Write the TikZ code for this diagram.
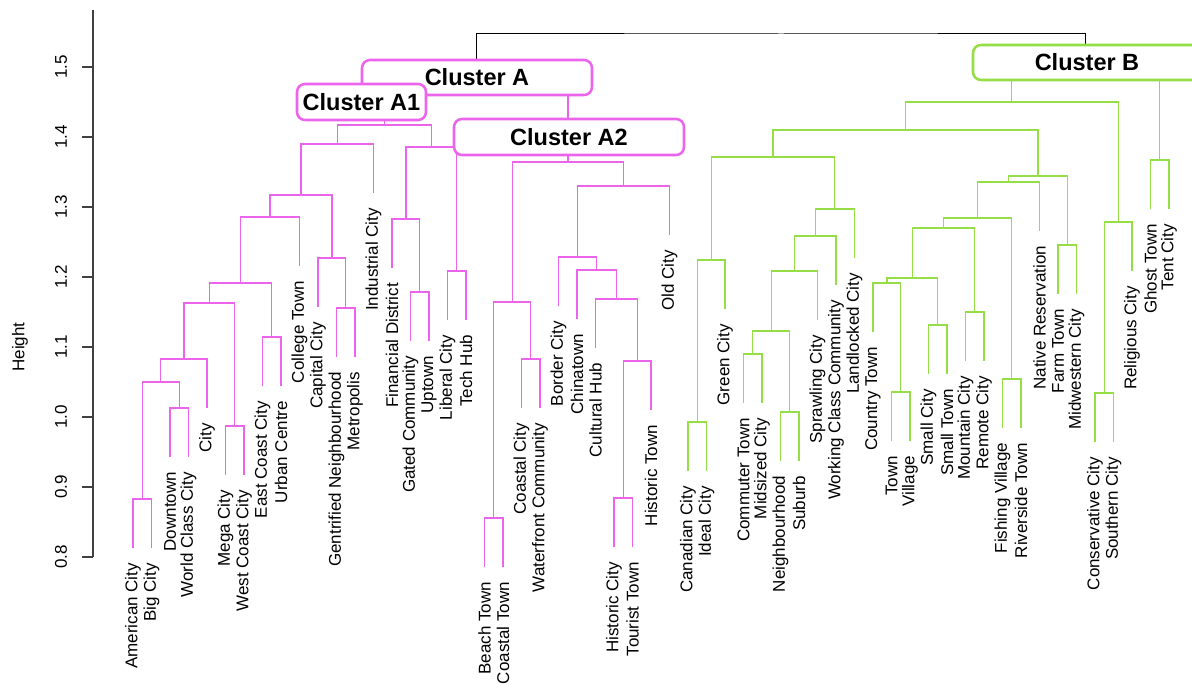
\documentclass[tikz,border=0pt]{standalone}
\usepackage{fontspec}
\setmainfont{Liberation Sans}
\definecolor{clusA}{RGB}{235,100,235}
\definecolor{clusB}{RGB}{150,222,70}
\begin{document}
\begin{tikzpicture}[x=1pt,y=-1pt,scale=0.75,every node/.style={scale=0.75}]
\tikzstyle{leaf} = [rotate=90,anchor=east,inner xsep=15pt,inner ysep=0pt,outer sep=0pt,font=\fontsize{17}{20}\selectfont]
\tikzstyle{linkA} = [clusA,line width=0.9pt]
\tikzstyle{linkB} = [clusB,line width=0.9pt]
\tikzstyle{linkroot} = [black,line width=0.75pt]
\tikzstyle{cbox} = [draw,fill=white,rounded corners=6pt,line width=1.9pt,inner sep=2pt,minimum height=35pt,font=\fontsize{23.5}{28}\selectfont\bfseries]
\tikzstyle{axlab} = [rotate=90,font=\fontsize{17}{20}\selectfont]

\useasboundingbox (0,0) rectangle (1192,684);

\draw[line width=0.9pt,black!75] (93,10) -- (93,557);
\foreach \v [count=\i from 0] in {0.8,0.9,1.0,1.1,1.2,1.3,1.4,1.5} {
  \draw[line width=0.9pt,black!75] (93,557-70*\i) -- (82,557-70*\i);
  \node[axlab] (t\i) at (61,557-70*\i) {\v};
}
\node[axlab] (ylab) at (20,347) {Height};

\node[leaf] (l1) at (133,548) {American City};
\node[leaf] (l2) at (151.5,548) {Big City};
\node[leaf] (l3) at (170,457) {Downtown};
\node[leaf] (l4) at (188.5,457) {World Class City};
\node[leaf] (l5) at (207,408) {City};
\node[leaf] (l6) at (225.5,475) {Mega City};
\node[leaf] (l7) at (244,475) {West Coast City};
\node[leaf] (l8) at (262.5,386) {East Coast City};
\node[leaf] (l9) at (281,386) {Urban Centre};
\node[leaf] (l10) at (299.5,266) {College Town};
\node[leaf] (l11) at (318,307) {Capital City};
\node[leaf] (l12) at (336.5,357) {Gentrified Neighbourhood};
\node[leaf] (l13) at (355,357) {Metropolis};
\node[leaf] (l14) at (373.5,193) {Industrial City};
\node[leaf] (l15) at (392,268) {Financial District};
\node[leaf] (l16) at (410.5,341) {Gated Community};
\node[leaf] (l17) at (429,341) {Uptown};
\node[leaf] (l18) at (447.5,320) {Liberal City};
\node[leaf] (l19) at (466,320) {Tech Hub};
\node[leaf] (l20) at (484.5,567) {Beach Town};
\node[leaf] (l21) at (503,567) {Coastal Town};
\node[leaf] (l22) at (521.5,408) {Coastal City};
\node[leaf] (l23) at (540,408) {Waterfront Community};
\node[leaf] (l24) at (558.5,306) {Border City};
\node[leaf] (l25) at (577,319) {Chinatown};
\node[leaf] (l26) at (595.5,348) {Cultural Hub};
\node[leaf] (l27) at (614,547) {Historic City};
\node[leaf] (l28) at (632.5,547) {Tourist Town};
\node[leaf] (l29) at (651,410) {Historic Town};
\node[leaf] (l30) at (669.5,235) {Old City};
\node[leaf] (l31) at (688,471) {Canadian City};
\node[leaf] (l32) at (706.5,471) {Ideal City};
\node[leaf] (l33) at (725,309) {Green City};
\node[leaf] (l34) at (743.5,403) {Commuter Town};
\node[leaf] (l35) at (762,403) {Midsized City};
\node[leaf] (l36) at (780.5,461) {Neighbourhood};
\node[leaf] (l37) at (799,461) {Suburb};
\node[leaf] (l38) at (817.5,320) {Sprawling City};
\node[leaf] (l39) at (836,285) {Working Class Community};
\node[leaf] (l40) at (854.5,258) {Landlocked City};
\node[leaf] (l41) at (873,332) {Country Town};
\node[leaf] (l42) at (891.5,441) {Town};
\node[leaf] (l43) at (910,441) {Village};
\node[leaf] (l44) at (928.5,374) {Small City};
\node[leaf] (l45) at (947,374) {Small Town};
\node[leaf] (l46) at (965.5,361) {Mountain City};
\node[leaf] (l47) at (984,361) {Remote City};
\node[leaf] (l48) at (1002.5,428) {Fishing Village};
\node[leaf] (l49) at (1021,428) {Riverside Town};
\node[leaf] (l50) at (1039.5,231) {Native Reservation};
\node[leaf] (l51) at (1058,294) {Farm Town};
\node[leaf] (l52) at (1076.5,294) {Midwestern City};
\node[leaf] (l53) at (1095,442) {Conservative City};
\node[leaf] (l54) at (1113.5,442) {Southern City};
\node[leaf] (l55) at (1132,271) {Religious City};
\node[leaf] (l56) at (1150.5,209) {Ghost Town};
\node[leaf] (l57) at (1169,209) {Tent City};

\coordinate (a1) at (142.25,499);
\coordinate (a2) at (179.25,408);
\coordinate (a3) at (160.75,382);
\coordinate (a4) at (183.9,359);
\coordinate (a5) at (234.75,426);
\coordinate (a6) at (209.3,303);
\coordinate (a7) at (271.75,337);
\coordinate (a8) at (240.5,283);
\coordinate (a9) at (270,217);
\coordinate (a10) at (345.75,308);
\coordinate (a11) at (331.9,258);
\coordinate (a12) at (300.9,195);
\coordinate (a13) at (337.2,144);
\coordinate (a14) at (419.75,292);
\coordinate (a15) at (405.9,219);
\coordinate (a16) at (456.75,271);
\coordinate (a17) at (431.3,147);
\coordinate (a18) at (384.3,125);
\coordinate (a19) at (493.75,518);
\coordinate (a20) at (530.75,359);
\coordinate (a21) at (512.25,302);
\coordinate (a22) at (623.25,498);
\coordinate (a23) at (637.1,361);
\coordinate (a24) at (616.3,299);
\coordinate (a25) at (596.7,270);
\coordinate (a26) at (577.6,257);
\coordinate (a27) at (623.5,186);
\coordinate (a28) at (567.9,162);
\coordinate (a29) at (476.1,78);

\coordinate (b1) at (697.25,422);
\coordinate (b2) at (711.1,260);
\coordinate (b3) at (752.75,354);
\coordinate (b4) at (789.75,412);
\coordinate (b5) at (771.25,331);
\coordinate (b6) at (794.4,271);
\coordinate (b7) at (815.2,236);
\coordinate (b8) at (834.8,209);
\coordinate (b9) at (773,157);
\coordinate (b10) at (900.75,392);
\coordinate (b11) at (886.9,283);
\coordinate (b12) at (937.75,325);
\coordinate (b13) at (912.3,278);
\coordinate (b14) at (974.75,312);
\coordinate (b15) at (943.5,228);
\coordinate (b16) at (1011.75,379);
\coordinate (b17) at (977.6,218);
\coordinate (b18) at (1008.6,182);
\coordinate (b19) at (1067.25,245);
\coordinate (b20) at (1037.9,176);
\coordinate (b21) at (905.5,130);
\coordinate (b22) at (1104.25,393);
\coordinate (b23) at (1118.1,222);
\coordinate (b24) at (1011.8,102);
\coordinate (b25) at (1159.75,160);
\coordinate (b26) at (1085.8,63);
\coordinate (top) at (781,34);

\draw[linkA] (l1.east) |- (a1) -| (l2.east);
\draw[linkA] (l3.east) |- (a2) -| (l4.east);
\draw[linkA] (a1) |- (a3) -| (a2);
\draw[linkA] (a3) |- (a4) -| (l5.east);
\draw[linkA] (l6.east) |- (a5) -| (l7.east);
\draw[linkA] (a4) |- (a6) -| (a5);
\draw[linkA] (l8.east) |- (a7) -| (l9.east);
\draw[linkA] (a6) |- (a8) -| (a7);
\draw[linkA] (a8) |- (a9) -| (l10.east);
\draw[linkA] (l12.east) |- (a10) -| (l13.east);
\draw[linkA] (l11.east) |- (a11) -| (a10);
\draw[linkA] (a9) |- (a12) -| (a11);
\draw[linkA] (a12) |- (a13) -| (l14.east);
\draw[linkA] (l16.east) |- (a14) -| (l17.east);
\draw[linkA] (l15.east) |- (a15) -| (a14);
\draw[linkA] (l18.east) |- (a16) -| (l19.east);
\draw[linkA] (a15) |- (a17) -| (a16);
\draw[linkA] (a13) |- (a18) -| (a17);
\draw[linkA] (l20.east) |- (a19) -| (l21.east);
\draw[linkA] (l22.east) |- (a20) -| (l23.east);
\draw[linkA] (a19) |- (a21) -| (a20);
\draw[linkA] (l27.east) |- (a22) -| (l28.east);
\draw[linkA] (a22) |- (a23) -| (l29.east);
\draw[linkA] (l26.east) |- (a24) -| (a23);
\draw[linkA] (l25.east) |- (a25) -| (a24);
\draw[linkA] (l24.east) |- (a26) -| (a25);
\draw[linkA] (a26) |- (a27) -| (l30.east);
\draw[linkA] (a21) |- (a28) -| (a27);
\draw[linkA] (a18) |- (a29) -| (a28);

\draw[linkB] (l31.east) |- (b1) -| (l32.east);
\draw[linkB] (b1) |- (b2) -| (l33.east);
\draw[linkB] (l34.east) |- (b3) -| (l35.east);
\draw[linkB] (l36.east) |- (b4) -| (l37.east);
\draw[linkB] (b3) |- (b5) -| (b4);
\draw[linkB] (b5) |- (b6) -| (l38.east);
\draw[linkB] (b6) |- (b7) -| (l39.east);
\draw[linkB] (b7) |- (b8) -| (l40.east);
\draw[linkB] (b2) |- (b9) -| (b8);
\draw[linkB] (l42.east) |- (b10) -| (l43.east);
\draw[linkB] (l41.east) |- (b11) -| (b10);
\draw[linkB] (l44.east) |- (b12) -| (l45.east);
\draw[linkB] (b11) |- (b13) -| (b12);
\draw[linkB] (l46.east) |- (b14) -| (l47.east);
\draw[linkB] (b13) |- (b15) -| (b14);
\draw[linkB] (l48.east) |- (b16) -| (l49.east);
\draw[linkB] (b15) |- (b17) -| (b16);
\draw[linkB] (b17) |- (b18) -| (l50.east);
\draw[linkB] (l51.east) |- (b19) -| (l52.east);
\draw[linkB] (b18) |- (b20) -| (b19);
\draw[linkB] (b9) |- (b21) -| (b20);
\draw[linkB] (l53.east) |- (b22) -| (l54.east);
\draw[linkB] (b22) |- (b23) -| (l55.east);
\draw[linkB] (b21) |- (b24) -| (b23);
\draw[linkB] (l56.east) |- (b25) -| (l57.east);
\draw[linkB] (b24) |- (b26) -| (b25);

\draw[linkroot] (a29) |- (top) -| (b26);

\node[cbox,draw=clusA,minimum width=230pt] (boxA) at (477,77.5) {Cluster A};
\node[cbox,draw=clusA,minimum width=129pt,minimum height=36pt] (boxA1) at (361.5,102) {Cluster A1};
\node[cbox,draw=clusA,minimum width=230pt,minimum height=36pt] (boxA2) at (569,137) {Cluster A2};
\node[cbox,draw=clusB,minimum width=228pt] (boxB) at (1087,62.5) {Cluster B};
\end{tikzpicture}
\end{document}
